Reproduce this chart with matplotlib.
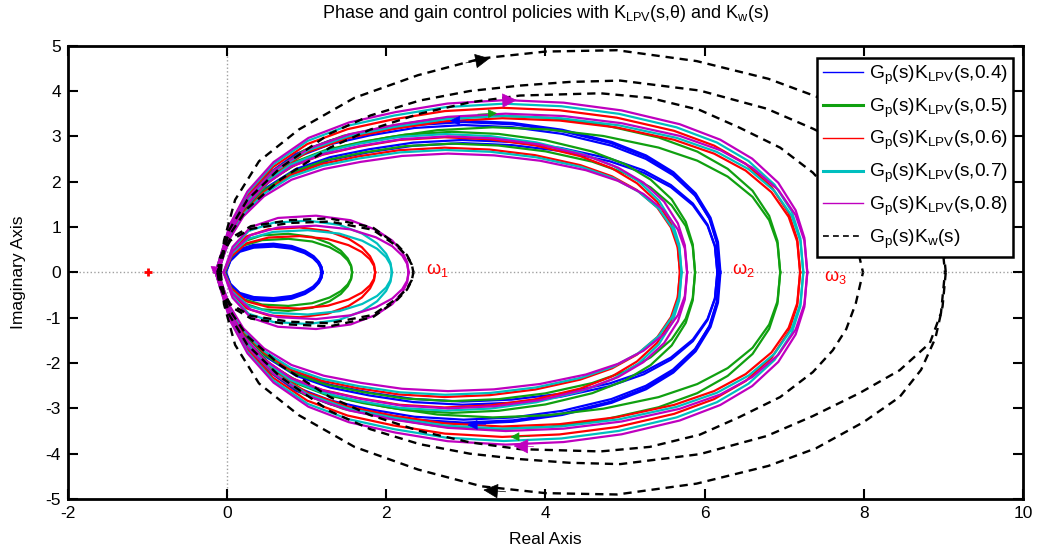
import matplotlib
matplotlib.use("Agg")
import matplotlib.pyplot as plt
from matplotlib.lines import Line2D
import numpy as np

plt.rcParams["font.family"] = ["Liberation Sans", "DejaVu Sans"]
plt.rcParams["mathtext.fontset"] = "custom"
plt.rcParams["mathtext.rm"] = "Liberation Sans"
plt.rcParams["mathtext.it"] = "Liberation Sans:italic"
plt.rcParams["axes.unicode_minus"] = False

thetas = ["0.4", "0.5", "0.6", "0.7", "0.8"]
colors = ["#0000ff", "#10a010", "#ff0000", "#00bfbf", "#bf00bf"]
legend_lw = [1.0, 2.2, 1.0, 2.2, 1.0]

# omega_1 loop: real-axis crossing and peak of both branches
small_cross = [1.19, 1.57, 1.86, 2.07, 2.28]
small_peak_a = [0.62, 0.85, 0.99, 1.14, 1.25]
small_peak_b = [0.58, 0.74, 0.80, 0.93, 1.03]

# omega_2 loop
mid_cross = [6.16, 5.88, 5.69, 5.71, 5.78]
mid_peak_a = [2.92, 3.10, 2.98, 3.05, 3.00]
mid_peak_b = [2.85, 2.84, 2.75, 2.70, 2.62]

# omega_3 loop
big_cross = [6.19, 6.95, 7.20, 7.24, 7.29]
big_peak_a = [3.33, 3.46, 3.63, 3.72, 3.80]
big_peak_b = [3.25, 3.20, 3.40, 3.45, 3.50]

# loop outlines (fraction of crossing, fraction of peak)
big_fx = [-0.02, 0.005, 0.035, 0.08, 0.14, 0.21, 0.29, 0.38, 0.48, 0.58,
          0.68, 0.78, 0.85, 0.905, 0.95, 0.98, 0.995, 1.0]
big_fy = [0, 0.28, 0.47, 0.64, 0.78, 0.87, 0.93, 0.98, 1.0, 0.985,
          0.94, 0.86, 0.77, 0.66, 0.52, 0.36, 0.2, 0]
small_fx = [-0.02, 0.03, 0.13, 0.28, 0.49, 0.68, 0.82, 0.91, 0.965, 0.992, 1.0]
small_fy = [0, 0.45, 0.8, 0.96, 1.0, 0.92, 0.75, 0.56, 0.36, 0.18, 0]

# K_w(s) branches (upper half, mirrored below)
kw_a_x = [-0.08, -0.04, 0.1, 0.4, 0.9, 1.6, 2.4, 3.2, 4.0, 4.9, 5.9, 6.8,
          7.4, 8.0, 8.45, 8.72, 8.9, 8.99, 9.03]
kw_a_y = [0.0, 0.7, 1.6, 2.45, 3.15, 3.85, 4.35, 4.72, 4.87, 4.9, 4.66, 4.27,
          3.88, 3.3, 2.75, 2.15, 1.45, 0.75, 0.0]
kw_b_x = [-0.1, 0.0, 0.25, 0.67, 1.29, 1.8, 2.42, 3.05, 3.68, 4.3, 4.94, 5.94,
          6.78, 7.36, 7.95, 8.45, 8.83, 8.97, 9.02]
kw_b_y = [0.0, 0.86, 1.59, 2.31, 3.06, 3.46, 3.79, 4.0, 4.12, 4.2, 4.23, 4.01,
          3.61, 3.17, 2.66, 2.16, 1.56, 0.9, 0.0]
kw_c_x = [-0.1, 0.0, 0.25, 0.67, 1.29, 1.8, 2.42, 3.05, 3.68, 4.69, 5.31, 5.94,
          6.44, 6.95, 7.36, 7.61, 7.78, 7.9, 7.99]
kw_c_y = [0.0, 0.75, 1.4, 2.05, 2.75, 3.15, 3.5, 3.75, 3.9, 3.95, 3.85, 3.58,
          3.19, 2.75, 2.2, 1.72, 1.25, 0.68, 0.0]
kw_s_x = [-0.12, -0.09, 0.04, 0.3, 0.79, 1.29, 1.83, 2.14, 2.26, 2.32, 2.34]
kw_s_y = [0.0, 0.33, 0.75, 1.02, 1.15, 1.19, 0.99, 0.6, 0.38, 0.18, 0.0]
kw_s_y2 = [0.0, 0.3, 0.7, 0.96, 1.09, 1.12, 0.94, 0.57, 0.36, 0.17, 0.0]

# direction arrows (tail -> head)
arrow_tail = [(3.3, 3.78), (3.85, -3.84), (3.15, 3.49), (3.8, -3.62),
              (3.0, 3.34), (3.25, -3.36), (3.0, 4.62), (3.5, -4.84),
              (-0.16, 0.12)]
arrow_head = [(3.64, 3.80), (3.6, -3.83), (3.39, 3.51), (3.56, -3.63),
              (2.8, 3.35), (3.02, -3.37), (3.3, 4.72), (3.22, -4.8),
              (-0.17, -0.04)]
arrow_color = ["#bf00bf", "#bf00bf", "#10a010", "#10a010",
               "#0000ff", "#0000ff", "black", "black", "#bf00bf"]
arrow_size = [24, 24, 14, 14, 16, 16, 24, 24, 12]

omega_labels = ["1", "2", "3"]
omega_x = [2.5, 6.35, 7.5]
omega_y = [0.05, 0.05, -0.1]

fig = plt.figure(figsize=(10.38, 5.53), dpi=100)
ax = fig.add_axes([0.0655, 0.0976, 0.92, 0.8198])

ax.axhline(0, color="#a0a0a0", ls=":", lw=1.0, zorder=0)
ax.axvline(0, color="#a0a0a0", ls=":", lw=1.0, zorder=0)


def branch(x, y, **kw):
    ax.plot(x, y, **kw)
    ax.plot(x, -np.asarray(y), **kw)


for i, col in enumerate(colors):
    lw = 1.6
    sx = np.array(small_fx) * small_cross[i]
    for pk in (small_peak_a[i], small_peak_b[i]):
        branch(sx, np.array(small_fy) * pk, color=col, lw=2.4 if i == 0 else lw)
    mx = np.array(big_fx) * mid_cross[i]
    for pk in (mid_peak_a[i], mid_peak_b[i]):
        branch(mx, np.array(big_fy) * pk, color=col, lw=lw)
    bx = np.array(big_fx) * big_cross[i]
    for pk in (big_peak_a[i], big_peak_b[i]):
        branch(bx, np.array(big_fy) * pk, color=col,
               lw=2.6 if (i == 0 and pk == big_peak_a[i]) else lw)

dash = dict(color="black", lw=1.7, dashes=(3.5, 2.5))
branch(kw_a_x, kw_a_y, **dash)
branch(kw_b_x, kw_b_y, **dash)
branch(kw_c_x, kw_c_y, **dash)
branch(kw_s_x, kw_s_y, **dash)
branch(kw_s_x, kw_s_y2, **dash)

for t, h, c, s in zip(arrow_tail, arrow_head, arrow_color, arrow_size):
    ax.annotate("", xy=h, xytext=t,
                arrowprops=dict(arrowstyle="-|>", color=c, lw=0.5,
                                mutation_scale=s, shrinkA=0, shrinkB=0))

ax.plot([-1], [0], marker="+", color="red", ms=6, mew=2)

for lab, x, y in zip(omega_labels, omega_x, omega_y):
    ax.text(x, y, r"$\mathregular{\omega_%s}$" % lab, color="red",
            fontsize=13, va="center", ha="left")

ax.set_xlim(-2, 10)
ax.set_ylim(-5, 5)
ax.set_xticks(range(-2, 11, 2))
ax.set_yticks(range(-5, 6))
ax.tick_params(direction="in", top=True, right=True, length=7, width=1.5,
               labelsize=12.5, pad=5)
for sp in ax.spines.values():
    sp.set_linewidth(2)

ax.set_xlabel("Real Axis", fontsize=12.5, labelpad=8)
ax.set_ylabel("Imaginary Axis", fontsize=12.5, labelpad=14)
ax.set_title(r"Phase and gain control policies with $\mathregular{K_{LPV}}$(s,θ)"
             r" and $\mathregular{K_w}$(s)", fontsize=13, pad=20)

handles = [Line2D([], [], color=c, lw=w) for c, w in zip(colors, legend_lw)]
handles.append(Line2D([], [], color="black", lw=1.2, dashes=(3.5, 2.5)))
labels = [r"$\mathregular{G_p}$(s)$\mathregular{K_{LPV}}$(s,%s)" % t for t in thetas]
labels.append(r"$\mathregular{G_p}$(s)$\mathregular{K_w}$(s)")
leg = ax.legend(handles, labels, loc="upper right", bbox_to_anchor=(0.99, 0.973),
                borderaxespad=0, fancybox=False, edgecolor="black", framealpha=1,
                fontsize=13.8, handlelength=2.1, labelspacing=0.5, borderpad=0.3,
                handletextpad=0.3)
leg.get_frame().set_linewidth(1.8)

fig.savefig("out.png", dpi=100)
